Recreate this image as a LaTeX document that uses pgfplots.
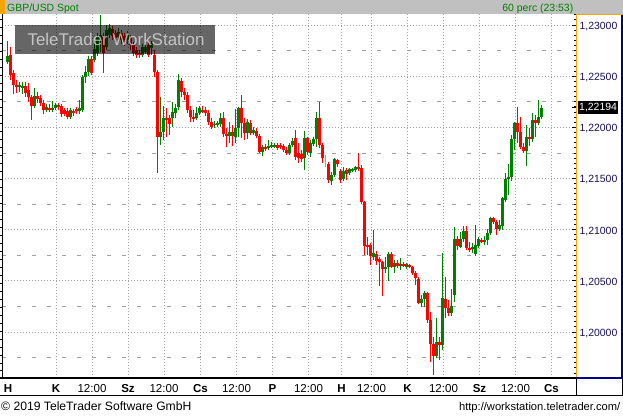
\documentclass[border=0pt]{standalone}
\usepackage{fontspec}
\setmainfont{Liberation Sans}
\usepackage{pgfplots}
\usepackage{pgfplotstable}
\pgfplotsset{compat=1.18}
\definecolor{cgreen}{RGB}{0,128,0}
\definecolor{cred}{RGB}{255,0,0}
\definecolor{ccyan}{RGB}{0,230,230}
\definecolor{hdrgray}{RGB}{192,192,192}
\definecolor{corange}{RGB}{245,165,0}
\definecolor{cnavy}{RGB}{25,15,90}
\definecolor{cblue}{RGB}{0,0,140}
\definecolor{gridgray}{RGB}{160,160,160}
\definecolor{hdrgreen}{RGB}{0,128,0}

% hourly candles, GBP/USD (x = time position)
\pgfplotstableread{
x o h l c
7.5 1.22638 1.22844 1.22629 1.22697
19.5 1.22394 1.22443 1.22345 1.22414
22.5 1.22394 1.22443 1.22326 1.22404
34.5 1.22209 1.22384 1.22189 1.22306
46.5 1.22169 1.22228 1.22150 1.22199
52.5 1.22179 1.22257 1.22150 1.22189
55.5 1.22189 1.22238 1.22169 1.22218
70.5 1.22101 1.22189 1.22081 1.22169
79.5 1.22160 1.22267 1.22130 1.22189
82.5 1.22169 1.22511 1.22150 1.22492
85.5 1.22492 1.22599 1.22433 1.22541
88.5 1.22541 1.22697 1.22502 1.22668
94.5 1.22658 1.22853 1.22638 1.22765
97.5 1.22726 1.22922 1.22697 1.22883
100.5 1.22853 1.23098 1.22736 1.22902
106.5 1.22785 1.23000 1.22756 1.22951
109.5 1.22902 1.23010 1.22873 1.22971
118.5 1.22883 1.22971 1.22853 1.22932
127.5 1.22853 1.22941 1.22814 1.22902
142.5 1.22707 1.22814 1.22687 1.22785
145.5 1.22736 1.22814 1.22717 1.22785
151.5 1.22775 1.22844 1.22707 1.22824
160.5 1.21905 1.22296 1.21827 1.21954
163.5 1.21954 1.22209 1.21876 1.22091
172.5 1.22091 1.22248 1.22003 1.22150
175.5 1.22140 1.22228 1.22091 1.22189
178.5 1.22199 1.22521 1.22169 1.22463
196.5 1.22091 1.22199 1.22072 1.22140
199.5 1.22140 1.22209 1.22121 1.22189
214.5 1.22023 1.22062 1.21993 1.22033
217.5 1.22033 1.22062 1.22003 1.22042
220.5 1.22033 1.22140 1.22003 1.22091
229.5 1.21915 1.22052 1.21847 1.21954
235.5 1.21905 1.22179 1.21847 1.21993
238.5 1.21993 1.22189 1.21905 1.22189
247.5 1.21945 1.22081 1.21886 1.22052
253.5 1.21945 1.22003 1.21925 1.21974
262.5 1.21759 1.21827 1.21720 1.21808
268.5 1.21798 1.21876 1.21778 1.21818
271.5 1.21818 1.21857 1.21798 1.21827
274.5 1.21818 1.21847 1.21808 1.21827
289.5 1.21749 1.21847 1.21739 1.21827
292.5 1.21827 1.21896 1.21808 1.21866
304.5 1.21700 1.21964 1.21583 1.21896
310.5 1.21749 1.21876 1.21710 1.21847
313.5 1.21837 1.21905 1.21818 1.21886
316.5 1.21886 1.22150 1.21808 1.22091
331.5 1.21476 1.21564 1.21437 1.21534
334.5 1.21534 1.21700 1.21515 1.21691
343.5 1.21495 1.21612 1.21476 1.21573
349.5 1.21554 1.21603 1.21534 1.21593
352.5 1.21583 1.21603 1.21564 1.21593
355.5 1.21583 1.21622 1.21573 1.21612
373.5 1.20733 1.20997 1.20704 1.20772
385.5 1.20616 1.20733 1.20577 1.20636
388.5 1.20636 1.20772 1.20499 1.20763
394.5 1.20636 1.20704 1.20577 1.20675
400.5 1.20655 1.20723 1.20606 1.20665
406.5 1.20636 1.20675 1.20616 1.20665
421.5 1.20284 1.20362 1.20245 1.20323
424.5 1.20323 1.20391 1.20245 1.20382
436.5 1.19766 1.20137 1.19756 1.19902
442.5 1.19873 1.20772 1.19824 1.20333
451.5 1.20186 1.20421 1.20157 1.20254
454.5 1.20362 1.21026 1.20293 1.20909
460.5 1.20831 1.20977 1.20821 1.20909
463.5 1.20909 1.21036 1.20880 1.20987
472.5 1.20821 1.20870 1.20772 1.20831
475.5 1.20763 1.21046 1.20753 1.20850
478.5 1.20841 1.20929 1.20831 1.20909
484.5 1.20890 1.20938 1.20850 1.20899
487.5 1.20899 1.21007 1.20850 1.20968
490.5 1.20968 1.21124 1.20948 1.21114
499.5 1.21007 1.21095 1.20987 1.21046
502.5 1.21036 1.21319 1.20997 1.21310
505.5 1.21290 1.21554 1.21290 1.21495
508.5 1.21495 1.21642 1.21339 1.21515
511.5 1.21515 1.21925 1.21476 1.21886
514.5 1.21886 1.22052 1.21778 1.22042
526.5 1.21769 1.22023 1.21622 1.21905
532.5 1.21886 1.22140 1.21857 1.22072
538.5 1.22042 1.22267 1.22042 1.22101
541.5 1.22101 1.22218 1.22091 1.22194
}\up

\pgfplotstableread{
x o h l c
10.5 1.22707 1.22785 1.22463 1.22511
13.5 1.22531 1.22560 1.22326 1.22414
16.5 1.22414 1.22463 1.22336 1.22394
25.5 1.22404 1.22443 1.22296 1.22336
28.5 1.22365 1.22433 1.22248 1.22296
31.5 1.22296 1.22316 1.22072 1.22209
37.5 1.22306 1.22345 1.22238 1.22277
40.5 1.22287 1.22316 1.22209 1.22238
43.5 1.22238 1.22267 1.22130 1.22169
49.5 1.22189 1.22228 1.22150 1.22179
58.5 1.22218 1.22238 1.22169 1.22199
61.5 1.22209 1.22228 1.22101 1.22130
64.5 1.22169 1.22189 1.22111 1.22130
67.5 1.22160 1.22189 1.22081 1.22101
73.5 1.22160 1.22179 1.22111 1.22140
76.5 1.22179 1.22199 1.22130 1.22160
91.5 1.22668 1.22697 1.22511 1.22531
103.5 1.22883 1.22922 1.22531 1.22726
112.5 1.22961 1.22990 1.22853 1.22892
115.5 1.22922 1.22951 1.22834 1.22873
121.5 1.22922 1.22951 1.22814 1.22853
124.5 1.22892 1.22922 1.22795 1.22834
130.5 1.22873 1.22902 1.22756 1.22805
133.5 1.22805 1.22834 1.22697 1.22726
136.5 1.22756 1.22785 1.22678 1.22707
139.5 1.22726 1.22756 1.22678 1.22707
148.5 1.22805 1.22834 1.22687 1.22707
154.5 1.22707 1.22756 1.22492 1.22541
157.5 1.22541 1.22560 1.21554 1.21905
166.5 1.22091 1.22189 1.21905 1.22081
169.5 1.22091 1.22121 1.21925 1.22033
181.5 1.22453 1.22482 1.22296 1.22345
184.5 1.22345 1.22384 1.22267 1.22316
187.5 1.22316 1.22345 1.22140 1.22169
190.5 1.22169 1.22209 1.22052 1.22101
193.5 1.22101 1.22169 1.22052 1.22091
202.5 1.22169 1.22209 1.22140 1.22160
205.5 1.22169 1.22199 1.22111 1.22140
208.5 1.22140 1.22169 1.22023 1.22052
211.5 1.22052 1.22091 1.21993 1.22003
223.5 1.22091 1.22150 1.21905 1.21935
226.5 1.21935 1.21993 1.21808 1.21915
232.5 1.21954 1.22023 1.21818 1.21915
241.5 1.22189 1.22316 1.21896 1.22042
244.5 1.22042 1.22091 1.21876 1.21945
250.5 1.22042 1.22072 1.21925 1.21945
256.5 1.21964 1.21993 1.21896 1.21915
259.5 1.21915 1.21935 1.21749 1.21759
265.5 1.21808 1.21837 1.21769 1.21798
277.5 1.21827 1.21847 1.21778 1.21798
280.5 1.21827 1.21847 1.21788 1.21808
283.5 1.21818 1.21837 1.21759 1.21778
286.5 1.21778 1.21808 1.21730 1.21749
295.5 1.21896 1.21974 1.21681 1.21710
298.5 1.21749 1.21847 1.21651 1.21700
301.5 1.21739 1.21778 1.21661 1.21691
307.5 1.21896 1.21905 1.21730 1.21759
319.5 1.22091 1.22248 1.21798 1.21827
322.5 1.21827 1.21847 1.21651 1.21700
328.5 1.21642 1.21661 1.21456 1.21485
337.5 1.21681 1.21691 1.21612 1.21642
340.5 1.21573 1.21593 1.21456 1.21485
346.5 1.21583 1.21603 1.21485 1.21544
358.5 1.21612 1.21749 1.21583 1.21593
361.5 1.21603 1.21632 1.21270 1.21270
364.5 1.21270 1.21270 1.20753 1.20841
367.5 1.20850 1.20929 1.20753 1.20831
370.5 1.20850 1.20870 1.20655 1.20743
376.5 1.20763 1.20792 1.20655 1.20694
379.5 1.20714 1.20733 1.20450 1.20684
382.5 1.20684 1.20684 1.20352 1.20616
391.5 1.20763 1.20772 1.20626 1.20636
397.5 1.20675 1.20704 1.20636 1.20645
403.5 1.20665 1.20684 1.20636 1.20655
409.5 1.20655 1.20665 1.20626 1.20636
412.5 1.20636 1.20636 1.20567 1.20577
415.5 1.20577 1.20596 1.20460 1.20528
418.5 1.20518 1.20528 1.20274 1.20284
427.5 1.20382 1.20382 1.20088 1.20117
430.5 1.20117 1.20196 1.19707 1.19883
433.5 1.19883 1.19951 1.19580 1.19766
439.5 1.19902 1.19951 1.19726 1.19873
445.5 1.20323 1.20538 1.20137 1.20235
448.5 1.20235 1.20313 1.20157 1.20186
457.5 1.20909 1.20938 1.20802 1.20841
466.5 1.20987 1.21036 1.20811 1.20821
469.5 1.20821 1.20880 1.20782 1.20802
481.5 1.20899 1.20919 1.20870 1.20880
493.5 1.21114 1.21124 1.21065 1.21075
496.5 1.21075 1.21095 1.20948 1.21007
517.5 1.22042 1.22199 1.21847 1.21954
520.5 1.21954 1.22101 1.21798 1.21808
523.5 1.21808 1.21847 1.21749 1.21769
529.5 1.21905 1.21993 1.21818 1.21886
535.5 1.22072 1.22121 1.21905 1.22042
}\down

\pgfplotstableread{
x o h l c
325.5 1.21651 1.21730 1.21612 1.21651
}\doji

\pgfplotsset{
  chartaxis/.style={
    at={(2bp,38bp)}, anchor=south west, scale only axis,
    width=574bp, height=364bp,
    xmin=2, xmax=576, ymin=1.195505, ymax=1.231075,
    axis line style={draw=none},
    xticklabel style={font=\fontsize{11.6}{13}\selectfont, yshift=-3bp, text=black},
    yticklabel style={font=\fontsize{10.5}{12}\selectfont, text=cnavy, yshift=-1.5bp},
    /pgf/number format/assume math mode=true,
  },
  wick/.style={draw=none, mark=none, forget plot,
    error bars/.cd, y dir=both, y explicit, error mark=none,
    error bar style={draw=#1, solid, line width=1bp}},
  body/.style={draw=none, mark=none, forget plot,
    error bars/.cd, y dir=both, y explicit, error mark=-,
    error bar style={draw=#1, solid, line width=3bp},
    error mark options={draw=#1, solid, line width=0.8bp, mark size=1.5bp}},
}

\begin{document}
\begin{tikzpicture}
% background and header
\fill[white] (0,0) rectangle (623bp,416bp);
\fill[hdrgray] (0,401.5bp) rectangle (623bp,416bp);
\fill[corange] (0,401.5bp) rectangle (5bp,416bp);
\node[anchor=base west, inner sep=0, text=hdrgreen, font=\fontsize{10.5}{12}\selectfont] at (7bp,404.5bp) {GBP/USD Spot};
\node[anchor=base east, inner sep=0, text=hdrgreen, font=\fontsize{10.5}{12}\selectfont] at (573.5bp,404.5bp) {60 perc (23:53)};

% secondary grid and left ticks
\begin{axis}[chartaxis,
  ytick={1.1975,1.2025,1.2075,1.2125,1.2175,1.2225,1.2275},
  yticklabels={},
  ymajorgrids, major grid style={draw=gridgray, dash pattern=on 3.5bp off 11.5bp, line width=0.8bp},
  minor ytick={1.1962,1.19698,1.19776,1.19854,1.19932,1.2001,1.20088,1.20166,1.20244,1.20322,1.204,1.20478,1.20556,1.20634,1.20712,1.2079,1.20868,1.20946,1.21024,1.21102,1.2118,1.21258,1.21336,1.21414,1.21492,1.2157,1.21648,1.21726,1.21804,1.21882,1.2196,1.22038,1.22116,1.22194,1.22272,1.2235,1.22428,1.22506,1.22584,1.22662,1.2274,1.22818,1.22896,1.22974,1.23052},
  ytick pos=left, tick align=outside,
  major tick length=0pt, minor tick length=2.6bp,
  minor tick style={black, line width=0.8bp},
  xtick={8}, xticklabels={\textbf{H}},
]
\addplot[draw=none, forget plot] coordinates {(300,1.21)};
\end{axis}

% main axis with candles
\begin{axis}[chartaxis,
  ytick={1.200,1.205,1.210,1.215,1.220,1.225,1.230},
  minor ytick={1.1960,1.1965,1.1970,1.1975,1.1980,1.1985,1.1990,1.1995,1.2005,1.2010,1.2015,1.2020,1.2025,1.2030,1.2035,1.2040,1.2045,1.2055,1.2060,1.2065,1.2070,1.2075,1.2080,1.2085,1.2090,1.2095,1.2105,1.2110,1.2115,1.2120,1.2125,1.2130,1.2135,1.2140,1.2145,1.2155,1.2160,1.2165,1.2170,1.2175,1.2180,1.2185,1.2190,1.2195,1.2205,1.2210,1.2215,1.2220,1.2225,1.2230,1.2235,1.2240,1.2245,1.2255,1.2260,1.2265,1.2270,1.2275,1.2280,1.2285,1.2290,1.2295,1.2305,1.2310},
  ytick pos=right, yticklabel pos=right,
  tick align=inside,
  major tick length=4bp, minor tick length=2.5bp,
  tick style={black, line width=0.8bp},
  ymajorgrids, major grid style={draw=gridgray, dash pattern=on 1bp off 2bp, line width=0.8bp},
  yticklabel style={/pgf/number format/fixed, /pgf/number format/fixed zerofill, /pgf/number format/precision=5, /pgf/number format/use comma},
  xtick=\empty,
  extra x ticks={56,92,128,164,200.5,236.5,272.5,308.5,341.5,371.5,407.5,443.5,479.5,515.5,551.5},
  extra x tick labels={\textbf{K},12:00,\textbf{Sz},12:00,\textbf{Cs},12:00,\textbf{P},12:00,\textbf{H},12:00,\textbf{K},12:00,\textbf{Sz},12:00,\textbf{Cs}},
  extra x tick style={xmajorgrids=true, major tick length=0pt},
  extra y ticks={1.22194},
  extra y tick labels={1{,}22194},
  extra y tick style={ymajorgrids=false, yticklabel style={fill=black, text=white, inner xsep=1bp, inner ysep=2bp, xshift=2bp, yshift=1.5bp}},
]
\addplot[wick=cgreen] table[x=x, y expr={(\thisrow{h}+\thisrow{l})/2}, y error expr={(\thisrow{h}-\thisrow{l})/2}] {\up};
\addplot[wick=cred] table[x=x, y expr={(\thisrow{h}+\thisrow{l})/2}, y error expr={(\thisrow{h}-\thisrow{l})/2}] {\down};
\addplot[wick=ccyan] table[x=x, y expr={(\thisrow{h}+\thisrow{l})/2}, y error expr={(\thisrow{h}-\thisrow{l})/2}] {\doji};
\addplot[body=cgreen] table[x=x, y expr={(\thisrow{o}+\thisrow{c})/2}, y error expr={abs(\thisrow{c}-\thisrow{o})/2}] {\up};
\addplot[body=cred] table[x=x, y expr={(\thisrow{o}+\thisrow{c})/2}, y error expr={abs(\thisrow{c}-\thisrow{o})/2}] {\down};
\addplot[body=ccyan] table[x=x, y expr={(\thisrow{o}+\thisrow{c})/2}, y error expr={abs(\thisrow{c}-\thisrow{o})/2}] {\doji};
\end{axis}

% frame lines
\draw[black, line width=1bp] (2.5bp,38bp) -- (2.5bp,401.5bp);
\draw[black, line width=1.2bp] (0,38bp) -- (577bp,38bp);
\draw[black, line width=1bp] (0,20bp) -- (622.5bp,20bp);
\draw[black, line width=1bp] (576.5bp,20bp) -- (576.5bp,38bp);
\draw[black, line width=1bp] (622bp,20bp) -- (622bp,38bp);
\draw[corange, line width=1bp] (576.5bp,38bp) -- (576.5bp,401bp) -- (623bp,401bp);
\draw[cblue, line width=2bp] (621.5bp,401bp) -- (621.5bp,38bp) -- (576bp,38bp);

% watermark
\fill[black, opacity=0.6] (15bp,362bp) rectangle (215bp,391bp);
\node[text=white, opacity=0.62, inner sep=0, font=\fontsize{17}{20}\selectfont] at (116bp,377bp) {TeleTrader WorkStation};

% footer
\node[anchor=base west, inner sep=0, font=\fontsize{12.2}{14}\selectfont] at (1bp,6bp) {© 2019 TeleTrader Software GmbH};
\node[anchor=base east, inner sep=0, font=\fontsize{11.2}{13}\selectfont] at (620.5bp,6bp) {http://workstation.teletrader.com/};

\pgfresetboundingbox
\path[use as bounding box] (0,0) rectangle (623bp,416bp);
\end{tikzpicture}
\end{document}
